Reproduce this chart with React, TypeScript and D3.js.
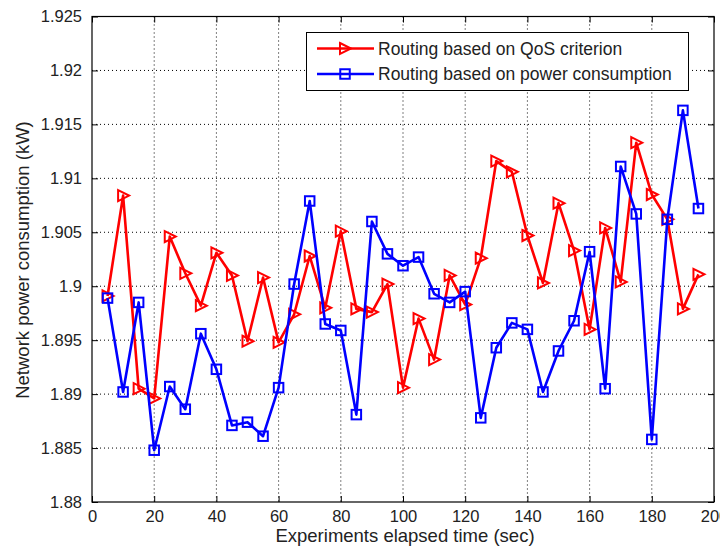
import React, { useEffect, useRef } from "react";
import * as d3 from "d3";

// elapsed time (sec)
const times = [5, 10, 15, 20, 25, 30, 35, 40, 45, 50, 55, 60, 65, 70, 75, 80, 85, 90, 95, 100,
  105, 110, 115, 120, 125, 130, 135, 140, 145, 150, 155, 160, 165, 170, 175, 180, 185, 190, 195];

const qosSeries = [1.8991, 1.9084, 1.8905, 1.8896, 1.9046, 1.9012, 1.8982, 1.9031, 1.901, 1.8949,
  1.9008, 1.8948, 1.8974, 1.9028, 1.898, 1.9051, 1.8979, 1.8976, 1.9002, 1.8906,
  1.897, 1.8932, 1.901, 1.8983, 1.9026, 1.9116, 1.9106, 1.9047, 1.9003, 1.9077,
  1.9033, 1.896, 1.9054, 1.9004, 1.9133, 1.9085, 1.9062, 1.8979, 1.9011];

const powerSeries = [1.8989, 1.8902, 1.8985, 1.8848, 1.8907, 1.8886, 1.8956, 1.8923, 1.8871, 1.8874,
  1.8861, 1.8906, 1.9002, 1.9079, 1.8965, 1.8959, 1.8881, 1.906, 1.903, 1.9019,
  1.9027, 1.8993, 1.8985, 1.8995, 1.8878, 1.8943, 1.8966, 1.896, 1.8902, 1.894,
  1.8968, 1.9032, 1.8905, 1.9111, 1.9067, 1.8858, 1.9062, 1.9163, 1.9072];

const xTicks = [0, 20, 40, 60, 80, 100, 120, 140, 160, 180, 200];
const yTicks = [1.88, 1.885, 1.89, 1.895, 1.9, 1.905, 1.91, 1.915, 1.92, 1.925];

const legendLabels = ["Routing based on QoS criterion", "Routing based on power consumption"];

const W = 728;
const H = 555;
const FONT = "'Liberation Sans', Arial, sans-serif";

const App = () => {
  const ref = useRef<SVGSVGElement>(null);

  useEffect(() => {
    const svg = d3.select(ref.current);
    svg.selectAll("*").remove();

    const left = 92, right = 714, top = 16.5, bottom = 502;

    const x = d3.scaleLinear().domain([0, 200]).range([left, right]);
    const y = d3.scaleLinear().domain([1.88, 1.925]).range([bottom, top]);

    svg.append("rect").attr("width", W).attr("height", H).attr("fill", "#fff");

    // grid lines (dotted)
    const grid = svg.append("g");
    xTicks.slice(1, -1).forEach(t => {
      grid.append("line")
        .attr("x1", x(t)).attr("x2", x(t))
        .attr("y1", top).attr("y2", bottom)
        .attr("stroke", "#000").attr("stroke-width", 1)
        .attr("stroke-dasharray", "1,3");
    });
    yTicks.slice(1, -1).forEach(t => {
      grid.append("line")
        .attr("x1", left).attr("x2", right)
        .attr("y1", y(t)).attr("y2", y(t))
        .attr("stroke", "#000").attr("stroke-width", 1)
        .attr("stroke-dasharray", "1,3");
    });

    // axes box with inward ticks
    const tl = 6;
    svg.append("g").attr("transform", `translate(0,${bottom})`)
      .call(d3.axisBottom(x).tickValues(xTicks).tickSizeInner(-tl).tickSizeOuter(0).tickPadding(8))
      .call(g => g.select(".domain").remove())
      .call(g => g.selectAll("text").attr("font-family", FONT).attr("font-size", 16.5).attr("fill", "#222"));
    svg.append("g").attr("transform", `translate(0,${top})`)
      .call(d3.axisTop(x).tickValues(xTicks).tickSizeInner(-tl).tickSizeOuter(0).tickFormat(() => ""))
      .call(g => g.select(".domain").remove());
    svg.append("g").attr("transform", `translate(${left},0)`)
      .call(d3.axisLeft(y).tickValues(yTicks).tickSizeInner(-tl).tickSizeOuter(0).tickPadding(10)
        .tickFormat(d => String(+(+d).toFixed(3))))
      .call(g => g.select(".domain").remove())
      .call(g => g.selectAll("text").attr("font-family", FONT).attr("font-size", 16.5).attr("fill", "#222"));
    svg.append("g").attr("transform", `translate(${right},0)`)
      .call(d3.axisRight(y).tickValues(yTicks).tickSizeInner(-tl).tickSizeOuter(0).tickFormat(() => ""))
      .call(g => g.select(".domain").remove());

    svg.append("rect")
      .attr("x", left).attr("y", top)
      .attr("width", right - left).attr("height", bottom - top)
      .attr("fill", "none").attr("stroke", "#000").attr("stroke-width", 1.2);

    // axis titles
    svg.append("text")
      .attr("x", 405).attr("y", 542)
      .attr("text-anchor", "middle")
      .attr("font-family", FONT).attr("font-size", 18.5).attr("fill", "#222")
      .text("Experiments elapsed time (sec)");
    svg.append("text")
      .attr("transform", `translate(29,260) rotate(-90)`)
      .attr("text-anchor", "middle")
      .attr("font-family", FONT).attr("font-size", 18.5).attr("fill", "#222")
      .text("Network power consumption (kW)");

    const line = d3.line<number>()
      .x((_, i) => x(times[i]))
      .y(d => y(d));

    const tri = (s: number) => `M${-s * 0.5},${-s * 0.55}L${s * 0.6},0L${-s * 0.5},${s * 0.55}Z`;
    const triSize = 10;

    // QoS series (red, right triangles)
    svg.append("path").datum(qosSeries)
      .attr("d", line).attr("fill", "none")
      .attr("stroke", "#ff0000").attr("stroke-width", 2.6).attr("stroke-linejoin", "round");
    svg.append("g").selectAll("path").data(qosSeries).enter().append("path")
      .attr("transform", (d, i) => `translate(${x(times[i])},${y(d)})`)
      .attr("d", tri(triSize))
      .attr("fill", "none").attr("stroke", "#ff0000").attr("stroke-width", 2);

    // power series (blue, squares)
    svg.append("path").datum(powerSeries)
      .attr("d", line).attr("fill", "none")
      .attr("stroke", "#0000ff").attr("stroke-width", 2.6).attr("stroke-linejoin", "round");
    const sq = 9.5;
    svg.append("g").selectAll("rect").data(powerSeries).enter().append("rect")
      .attr("x", (_, i) => x(times[i]) - sq / 2)
      .attr("y", d => y(d) - sq / 2)
      .attr("width", sq).attr("height", sq)
      .attr("fill", "none").attr("stroke", "#0000ff").attr("stroke-width", 2);

    // legend
    const lg = svg.append("g");
    lg.append("rect")
      .attr("x", 306.5).attr("y", 32.5).attr("width", 382).attr("height", 58)
      .attr("fill", "#fff").attr("stroke", "#000").attr("stroke-width", 1);
    const colors = ["#ff0000", "#0000ff"];
    legendLabels.forEach((lab, i) => {
      const ly = 48.5 + i * 25.5;
      lg.append("line")
        .attr("x1", 317).attr("x2", 374).attr("y1", ly).attr("y2", ly)
        .attr("stroke", colors[i]).attr("stroke-width", 2.6);
      if (i === 0) {
        lg.append("path").attr("transform", `translate(345,${ly})`).attr("d", tri(triSize))
          .attr("fill", "none").attr("stroke", colors[i]).attr("stroke-width", 2);
      } else {
        lg.append("rect").attr("x", 345 - sq / 2).attr("y", ly - sq / 2)
          .attr("width", sq).attr("height", sq)
          .attr("fill", "none").attr("stroke", colors[i]).attr("stroke-width", 2);
      }
      lg.append("text")
        .attr("x", 378).attr("y", ly + 6)
        .attr("font-family", FONT).attr("font-size", 17.5).attr("fill", "#222")
        .text(lab);
    });
  }, []);

  return (
    <div style={{ margin: -8 }}>
      <svg ref={ref} width={W} height={H} style={{ display: "block" }} />
    </div>
  );
};

export default App;
